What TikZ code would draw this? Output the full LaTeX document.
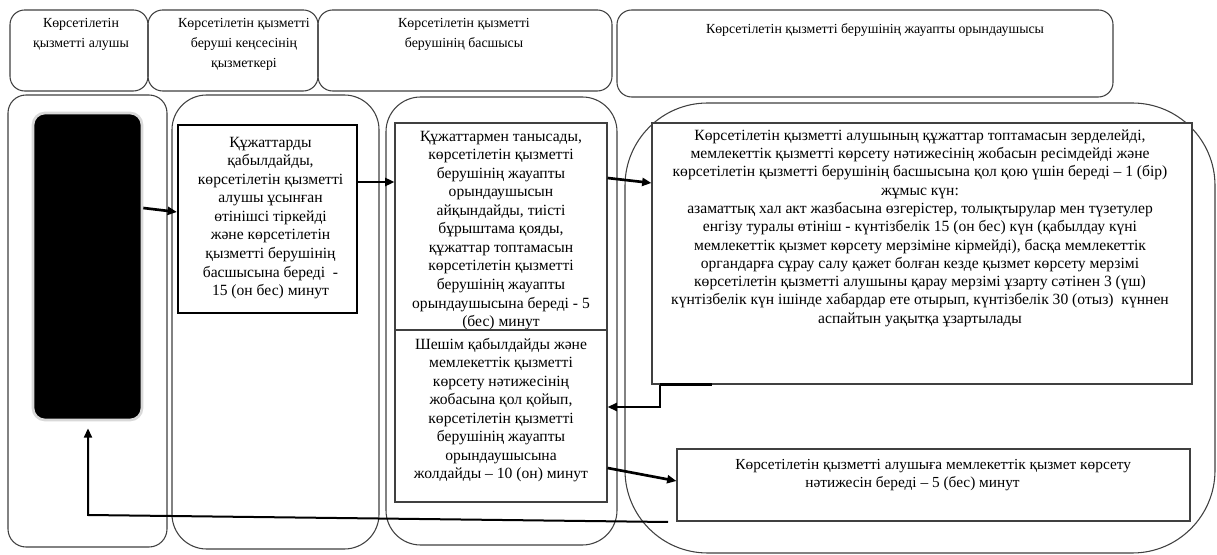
\documentclass[tikz,border=0pt]{standalone}
\usepackage{fontspec}
\setmainfont{Liberation Serif}
\usetikzlibrary{arrows.meta,fit,calc}
\begin{document}
\begin{tikzpicture}[x=0.75pt,y=-0.75pt,
  frame/.style={draw=black!75, line width=0.8pt, inner sep=0pt},
  hdr/.style={frame, rounded corners=11pt},
  box/.style={draw=black!75, line width=0.8pt, inner sep=0pt},
  txt/.style={font=\fontsize{11.7pt}{13.9pt}\selectfont, align=center, inner sep=0pt},
  wtxt/.style={font=\fontsize{11.7pt}{13.7pt}\selectfont, align=center, inner sep=0pt},
  htxt/.style={font=\fontsize{10.4pt}{14.8pt}\selectfont, align=center, inner sep=0pt},
  tip/.style={-{Triangle[length=7pt,width=6pt]}},
  arr/.style={line width=2pt, tip},
]
\useasboundingbox (0,0) rectangle (1217,555);
\fill[white] (0,0) rectangle (1217,555);

% headers
\node[hdr, fit={(10,10)(148,91)}] (h1) {};
\node[hdr, fit={(148,10)(318,91)}] (h2) {};
\node[hdr, fit={(318,10)(612,91)}] (h3) {};
\node[hdr, fit={(617,10)(1113,97)}] (h4) {};
\node[htxt, anchor=north] (h1t) at ($(h1.north)+(2,9)$) {Көрсетілетін\\қызметті алушы};
\node[htxt, anchor=north] (h2t) at ($(h2.north)+(11,9)$) {Көрсетілетін қызметті\\беруші кеңсесінің\\қызметкері};
\node[htxt, anchor=north] (h3t) at ($(h3.north)+(-1,9)$) {Көрсетілетін қызметті\\берушінің басшысы};
\node[htxt, anchor=north] (h4t) at ($(h4.north)+(10,14)$) {Көрсетілетін қызметті берушінің жауапты орындаушысы};

% lanes
\node[frame, rounded corners=13.5pt, fit={(8,95)(167,547)}] (l1) {};
\node[frame, rounded corners=26pt, fit={(172,95)(379,549)}] (l2) {};
\node[frame, rounded corners=26pt, fit={(386,97)(617,545)}] (l3) {};
\node[frame, rounded corners=62pt, fit={(625,103)(1215,553)}] (l4) {};

% black box
\node[fit={(33,113)(142,420)}, inner sep=0pt, fill=black, draw=black!15, line width=2pt, rounded corners=9pt] (blk) {};

% boxes
\node[box, draw=black, line width=1.6pt, fill=white, fit={(178,125)(357,313)}] (b2) {};
\node[txt] (b2t) at ($(b2.center)+(3,-1)$) {Құжаттарды\\қабылдайды,\\көрсетілетін қызметті\\алушы ұсынған\\өтінішсі тіркейді\\және көрсетілетін\\қызметті берушінің\\басшысына береді\ \ -\\15 (он бес) минут};

\node[box, fill=white, fit={(395,123)(607,330)}] (b3a) {};
\node[txt] (b3at) at ($(b3a.center)+(0,4)$) {Құжаттармен танысады,\\көрсетілетін қызметті\\берушінің жауапты\\орындаушысын\\айқындайды, тиісті\\бұрыштама қояды,\\құжаттар топтамасын\\көрсетілетін қызметті\\берушінің жауапты\\орындаушысына береді - 5\\(бес) минут};

\node[box, fill=white, fit={(395,330)(607,502)}] (b3b) {};
\node[txt] (b3bt) at ($(b3b.center)+(0,-6)$) {Шешім қабылдайды және\\мемлекеттік қызметті\\көрсету нәтижесінің\\жобасына қол қойып,\\көрсетілетін қызметті\\берушінің жауапты\\орындаушысына\\жолдайды – 10 (он) минут};

\node[box, fill=white, fit={(652,123)(1192,384)}] (b4) {};
\node[wtxt, anchor=north] (b4t) at ($(b4.north)+(-2,7)$) {Көрсетілетін қызметті алушының құжаттар топтамасын зерделейді,\\мемлекеттік қызметті көрсету нәтижесінің жобасын ресімдейді және\\көрсетілетін қызметті берушінің басшысына қол қою үшін береді – 1 (бір)\\жұмыс күн:\\азаматтық хал акт жазбасына өзгерістер, толықтырулар мен түзетулер\\енгізу туралы өтініш - күнтізбелік 15 (он бес) күн (қабылдау күні\\мемлекеттік қызмет көрсету мерзіміне кірмейді), басқа мемлекеттік\\органдарға сұрау салу қажет болған кезде қызмет көрсету мерзімі\\көрсетілетін қызметті алушыны қарау мерзімі ұзарту сәтінен 3 (үш)\\күнтізбелік күн ішінде хабардар ете отырып, күнтізбелік 30 (отыз)\ \ күннен\\аспайтын уақытқа ұзартылады};

\node[box, fill=white, fit={(677,449)(1190,521)}] (b5) {};
\node[wtxt, font=\fontsize{11.5pt}{12.9pt}\selectfont, anchor=north] (b5t) at ($(b5.north)+(-21,11)$) {\kern31pt Көрсетілетін қызметті алушыға мемлекеттік қызмет көрсету\\нәтижесін береді – 5 (бес) минут};

% connectors
\draw[arr] (blk.east |- 0,208) -- (b2.west |- 0,212);
\draw[arr] (b2.east |- 0,182) -- (b3a.west |- 0,182);
\draw[arr] (b3a.east |- 0,178) -- (b4.west |- 0,183);
\draw[line width=2.6pt] (b4.south -| 660,0) -- (b4.south -| 712,0);
\draw[line width=1.5pt, tip] (b4.south -| 660,0) |- (b3b.east |- 0,407);
\draw[arr] (b3b.east |- 0,468) -- (b5.west |- 0,481);
\coordinate (ret) at (668,522);
\draw[line width=1.5pt, tip] (ret) -- (88,515) -- ($(blk.south -| 88,0)+(0,7)$);
\end{tikzpicture}
\end{document}
